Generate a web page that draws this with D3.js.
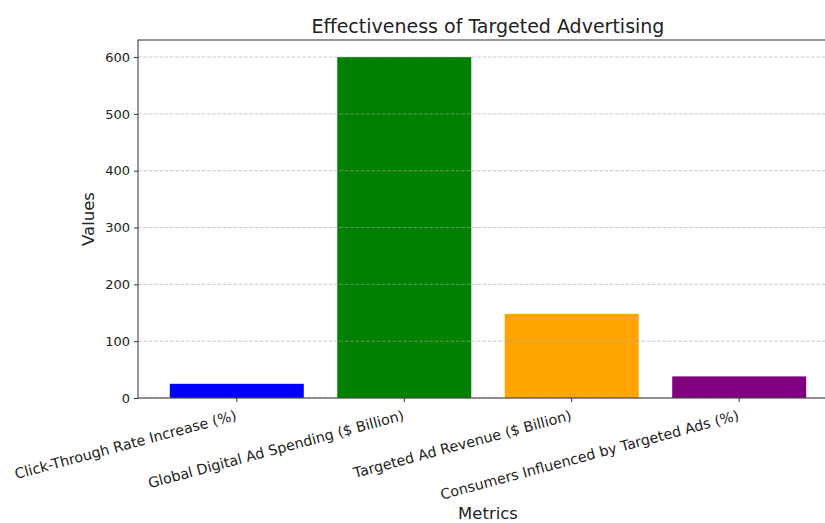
<!DOCTYPE html>
<html>
<head>
<meta charset="utf-8">
<script src="https://cdn.jsdelivr.net/npm/d3@7"></script>
<style>
  body { margin: 0; background: #fff; }
  svg { font-family: "DejaVu Sans", sans-serif; }
</style>
</head>
<body>
<div id="chart"></div>
<script>
// data
var metrics = ["Click-Through Rate Increase (%)", "Global Digital Ad Spending ($ Billion)",
  "Targeted Ad Revenue ($ Billion)", "Consumers Influenced by Targeted Ads (%)"];
var values = [25, 600, 148, 38];
var barColors = ["blue", "green", "orange", "purple"];
var yTicks = [0, 100, 200, 300, 400, 500, 600];

var W = 825, H = 523;
var margin = { top: 40, left: 138, bottom: 125 },
  plotRight = 838;

var svg = d3.select("#chart").append("svg")
  .attr("width", W).attr("height", H);

// category positions like matplotlib bar (width 0.8, 5% margins)
var x = d3.scaleLinear().domain([-0.59, 3.59]).range([margin.left, plotRight]);
var y = d3.scaleLinear().domain([0, 630]).range([H - margin.bottom, margin.top]);

// bars
svg.selectAll(".bar").data(values).enter().append("rect")
  .attr("class", "bar")
  .attr("x", function (d, i) { return x(i - 0.4); })
  .attr("width", function () { return x(0.4) - x(-0.4); })
  .attr("y", function (d) { return y(d); })
  .attr("height", function (d) { return y(0) - y(d); })
  .attr("fill", function (d, i) { return barColors[i]; });

// grid (drawn above bars)
svg.selectAll(".grid").data(yTicks).enter().append("line")
  .attr("x1", margin.left).attr("x2", plotRight)
  .attr("y1", function (d) { return y(d); })
  .attr("y2", function (d) { return y(d); })
  .attr("stroke", "#a8a8a8").attr("stroke-opacity", 0.75)
  .attr("stroke-dasharray", "3.7,1.6").attr("stroke-width", 0.8);

// spines
svg.append("rect")
  .attr("x", margin.left).attr("y", margin.top)
  .attr("width", plotRight - margin.left).attr("height", y(0) - margin.top)
  .attr("fill", "none").attr("stroke", "#333").attr("stroke-width", 1);

// y axis
var yAxis = svg.append("g")
  .attr("transform", "translate(" + margin.left + ",0)")
  .call(d3.axisLeft(y).tickValues(yTicks).tickSize(4).tickPadding(4));
yAxis.select(".domain").remove();
yAxis.selectAll("text").attr("font-size", 13).attr("fill", "#222").attr("font-family", "DejaVu Sans");
yAxis.selectAll("line").attr("stroke", "#333");

// x axis ticks
var xAxis = svg.append("g")
  .attr("transform", "translate(0," + y(0) + ")");
xAxis.selectAll("line").data(metrics).enter().append("line")
  .attr("x1", function (d, i) { return x(i); })
  .attr("x2", function (d, i) { return x(i); })
  .attr("y1", 0).attr("y2", 4)
  .attr("stroke", "#333");
xAxis.selectAll("text").data(metrics).enter().append("text")
  .attr("transform", function (d, i) { return "translate(" + (x(i) - 2) + ",12) rotate(-15)"; })
  .attr("text-anchor", "end")
  .attr("dy", "0.71em")
  .attr("font-size", 14.3).attr("fill", "#222")
  .text(function (d) { return d; });

// title & labels
svg.append("text")
  .attr("x", (margin.left + plotRight) / 2).attr("y", 33)
  .attr("text-anchor", "middle").attr("font-size", 19).attr("fill", "#222")
  .text("Effectiveness of Targeted Advertising");

svg.append("text")
  .attr("transform", "translate(94," + (margin.top + y(0)) / 2 + ") rotate(-90)")
  .attr("text-anchor", "middle").attr("font-size", 16.5).attr("fill", "#222")
  .text("Values");

svg.append("text")
  .attr("x", (margin.left + plotRight) / 2).attr("y", 519)
  .attr("text-anchor", "middle").attr("font-size", 16.5).attr("fill", "#222")
  .text("Metrics");
</script>
</body>
</html>
